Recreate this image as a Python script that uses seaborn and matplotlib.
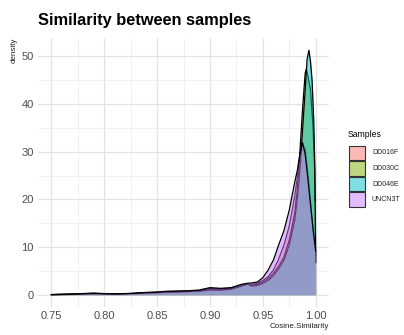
import matplotlib
matplotlib.use("Agg")
import matplotlib.pyplot as plt
from matplotlib.patches import Rectangle
import seaborn as sns
import numpy as np
import pandas as pd

# ---- data: density estimates of cosine similarity per sample ----
samples = ["DD016F", "DD030C", "DD046E", "UNCN3T"]
colors = ["#F8766D", "#7CAE00", "#00BFC4", "#C77CFF"]

low_x = [0.75, 0.76, 0.77, 0.78, 0.79, 0.80, 0.81, 0.82, 0.83, 0.84,
         0.85, 0.86, 0.87, 0.88, 0.89, 0.90, 0.91, 0.92]

x_DD016F = low_x + [0.93, 0.935, 0.94, 0.945, 0.95, 0.955, 0.96, 0.965, 0.97,
                    0.975, 0.98, 0.9825, 0.985, 0.9875, 0.99, 0.9925, 0.995,
                    0.9975, 1.0]
d_DD016F = [0.03, 0.08, 0.12, 0.2, 0.3, 0.22, 0.18, 0.22, 0.3, 0.42,
            0.5, 0.62, 0.7, 0.75, 0.85, 1.3, 1.2, 1.35,
            1.9, 2.1, 2.2, 2.4, 3.0, 3.8, 5.2, 7.5, 10.5,
            14.5, 20.5, 24.5, 28.5, 31.5, 30.5, 25.5, 19.5,
            13.0, 8.3]

x_DD030C = low_x + [0.93, 0.935, 0.94, 0.945, 0.95, 0.955, 0.96, 0.965, 0.97,
                    0.975, 0.98, 0.9825, 0.985, 0.9875, 0.99, 0.991, 0.9925,
                    0.995, 0.9975, 0.999, 0.9993]
d_DD030C = [0.02, 0.06, 0.1, 0.16, 0.22, 0.18, 0.15, 0.2, 0.28, 0.38,
            0.45, 0.55, 0.62, 0.7, 0.8, 1.1, 1.05, 1.2,
            1.8, 2.2, 2.0, 2.2, 2.7, 3.4, 4.5, 6.0, 8.0,
            11.5, 17.0, 22.0, 30.0, 39.0, 46.5, 47.3, 46.0,
            43.0, 35.0, 26.0, 19.6]

x_DD046E = low_x + [0.93, 0.935, 0.94, 0.945, 0.95, 0.955, 0.96, 0.965, 0.97,
                    0.975, 0.98, 0.9825, 0.985, 0.9875, 0.99, 0.9918, 0.9935,
                    0.995, 0.9965, 0.998, 0.999, 1.0]
d_DD046E = [0.02, 0.05, 0.08, 0.14, 0.2, 0.17, 0.14, 0.18, 0.26, 0.35,
            0.42, 0.5, 0.58, 0.66, 0.75, 1.0, 0.95, 1.15,
            1.9, 2.3, 1.8, 2.0, 2.4, 3.0, 4.0, 5.5, 7.3,
            10.5, 15.5, 20.0, 26.0, 34.5, 43.0, 49.4, 51.3,
            49.0, 45.0, 37.0, 28.0, 6.7]

x_UNCN3T = low_x + [0.93, 0.935, 0.94, 0.945, 0.95, 0.955, 0.96, 0.965, 0.97,
                    0.975, 0.98, 0.9825, 0.985, 0.9875, 0.99, 0.9925, 0.995,
                    0.9975, 1.0]
d_UNCN3T = [0.05, 0.1, 0.15, 0.25, 0.35, 0.25, 0.2, 0.25, 0.35, 0.5,
            0.6, 0.75, 0.8, 0.85, 1.0, 1.5, 1.35, 1.5,
            2.2, 2.4, 2.5, 2.7, 3.6, 5.2, 7.3, 10.5, 13.5,
            17.8, 23.5, 26.0, 29.5, 31.9, 29.5, 24.5, 19.0,
            13.7, 9.1]

x_ticks = [0.75, 0.80, 0.85, 0.90, 0.95, 1.00]
x_tick_labels = ["0.75", "0.80", "0.85", "0.90", "0.95", "1.00"]
y_ticks = [0, 10, 20, 30, 40, 50]

xs = [x_DD016F, x_DD030C, x_DD046E, x_UNCN3T]
ds = [d_DD016F, d_DD030C, d_DD046E, d_UNCN3T]

df = pd.concat(
    [pd.DataFrame({"Cosine.Similarity": x, "density": d, "Samples": s})
     for s, x, d in zip(samples, xs, ds)],
    ignore_index=True,
)

# ---- figure ----
sns.set_theme(style="whitegrid")
fonts = ["Liberation Sans", "DejaVu Sans"]
plt.rcParams["font.family"] = fonts

W, H = 404, 335
fig = plt.figure(figsize=(W / 100, H / 100), dpi=100)
fig.patch.set_facecolor("white")
ax = fig.add_axes([38 / W, 1 - 307 / H, (329 - 38) / W, (307 - 38) / H])
ax.set_facecolor("white")

for i, s in enumerate(samples):
    sub = df[df["Samples"] == s]
    ax.fill_between(sub["Cosine.Similarity"], 0, sub["density"],
                    color=colors[i], alpha=0.5, linewidth=0, zorder=2 + 2 * i)
    sns.lineplot(data=sub, x="Cosine.Similarity", y="density", ax=ax,
                 color="black", linewidth=0.9, zorder=3 + 2 * i,
                 estimator=None, sort=True)

# ggplot-style 5% expansion of the data range
xmin, xmax = df["Cosine.Similarity"].min(), df["Cosine.Similarity"].max()
ymax = df["density"].max()
ax.set_xlim(xmin - 0.05 * (xmax - xmin), xmax + 0.05 * (xmax - xmin))
ax.set_ylim(-0.05 * ymax, ymax * 1.05)

ax.set_xticks(x_ticks)
ax.set_xticklabels(x_tick_labels)
ax.set_yticks(y_ticks)
ax.set_xticks([0.775, 0.825, 0.875, 0.925, 0.975], minor=True)
ax.set_yticks([5, 15, 25, 35, 45], minor=True)
ax.grid(which="major", color="#E3E3E3", linewidth=0.9)
ax.grid(which="minor", color="#EEEEEE", linewidth=0.6)
ax.tick_params(which="both", length=0, labelsize=8, labelcolor="#4D4D4D", pad=3)
for sp in ax.spines.values():
    sp.set_visible(False)
ax.set_xlabel("")
ax.set_ylabel("")
ax.set_axisbelow(True)

# titles
fig.text(38 / W, 1 - 24.5 / H, "Similarity between samples", fontsize=11.8,
         fontweight="bold", ha="left", va="baseline", color="black")
fig.text(14.5 / W, 1 - 38 / H, "density", rotation=90, fontsize=5.8,
         ha="center", va="top", color="#222222")
fig.text(329 / W, 1 - 328.5 / H, "Cosine.Similarity", fontsize=5.8,
         ha="right", va="baseline", color="#222222")

# legend
fig.text(347.5 / W, 1 - 136.5 / H, "Samples", fontsize=6.2,
         ha="left", va="baseline", color="black")
for i, s in enumerate(samples):
    top = 145.5 + 15.6 * i
    rect = Rectangle((348.5 / W, 1 - (top + 14.5) / H), 16.5 / W, 14.5 / H,
                     transform=fig.transFigure, facecolor=colors[i], alpha=0.5,
                     edgecolor="none")
    fig.patches.append(rect)
    border = Rectangle((348.5 / W, 1 - (top + 14.5) / H), 16.5 / W, 14.5 / H,
                       transform=fig.transFigure, facecolor="none",
                       edgecolor="#333333", linewidth=0.8)
    fig.patches.append(border)
    fig.text(372 / W, 1 - (top + 7.5) / H, s, fontsize=5.0,
             ha="left", va="center", color="#222222")

fig.savefig("out.png", dpi=100, facecolor="white")
